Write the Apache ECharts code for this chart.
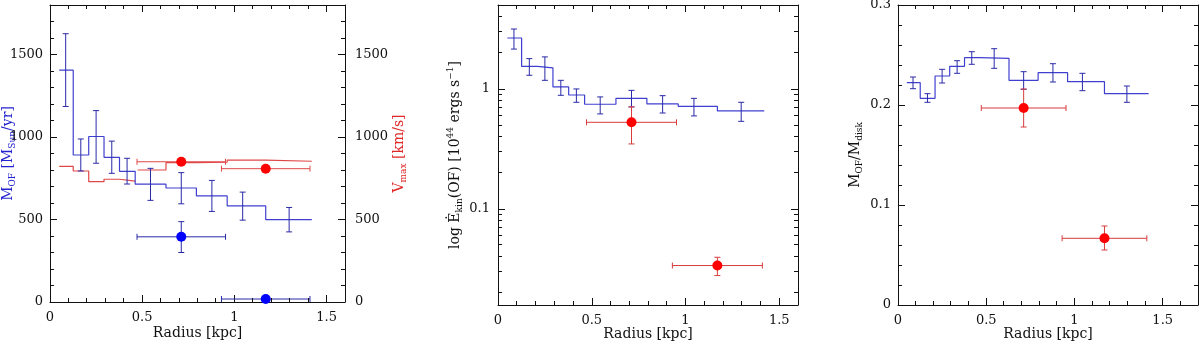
<!DOCTYPE html>
<html>
<head>
<meta charset="utf-8">
<script src="https://cdn.jsdelivr.net/npm/echarts@6.0.0/dist/echarts.min.js"></script>
<style>
  html, body { margin: 0; padding: 0; background: #fff; }
  #main { width: 1200px; height: 341px; }
</style>
</head>
<body>
<div id="main"></div>
<script>
// radial bins shared by the three panels
const binEdges = [0.05, 0.126, 0.21, 0.293, 0.377, 0.462, 0.629, 0.794, 0.961, 1.17, 1.42];
const binMid = [0.085, 0.167, 0.25, 0.335, 0.418, 0.545, 0.712, 0.878, 1.045, 1.297];

// left panel: outflow rate (blue) and Vmax (red)
const mdotOF = [1405, 891, 1003, 877, 792, 714, 691, 643, 582, 499];
const mdotLo = [1185, 794, 841, 780, 715, 616, 595, 549, 496, 425];
const mdotHi = [1626, 988, 1160, 975, 871, 810, 784, 737, 666, 573];
const vmaxInnerEdges = [0.05, 0.126, 0.21, 0.293, 0.377, 0.462];
const vmaxInner = [822, 794, 729, 744, 733];
const vmaxOuterEdges = [0.475, 0.629, 0.794, 0.961, 1.17, 1.42];
const vmaxOuter = [800, 845, 847, 860, 853];

// two large apertures
const apX = [0.712, 1.17];
const apXlo = [0.472, 0.93];
const apXhi = [0.952, 1.41];
const apMdot = [395, 18];
const apMdotLo = [300, 18];
const apMdotHi = [487, 18];
const apVmax = [850, 808];

// middle panel: kinetic power
const ekin = [2.66, 1.54, 1.50, 1.04, 0.89, 0.745, 0.835, 0.75, 0.716, 0.656];
const ekinLo = [2.15, 1.30, 1.18, 0.885, 0.774, 0.619, 0.708, 0.63, 0.596, 0.537];
const ekinHi = [3.16, 1.79, 1.85, 1.18, 1.0, 0.858, 0.973, 0.879, 0.835, 0.774];
const apEkin = [0.527, 0.0337];
const apEkinLo = [0.348, 0.0278];
const apEkinHi = [0.71, 0.0395];

// right panel: mass fraction
const mfrac = [0.2223, 0.2067, 0.229, 0.2387, 0.2473, 0.2467, 0.2247, 0.2323, 0.2233, 0.2113];
const mfracLo = [0.2163, 0.2027, 0.222, 0.2317, 0.2407, 0.2367, 0.2157, 0.223, 0.2143, 0.2027];
const mfracHi = [0.228, 0.2113, 0.2357, 0.2443, 0.2533, 0.2563, 0.2333, 0.2413, 0.2317, 0.219];
const apMfrac = [0.197, 0.0667];
const apMfracLo = [0.178, 0.055];
const apMfracHi = [0.216, 0.079];

// minor tick positions
const radiusMinor = [0.1, 0.2, 0.3, 0.4, 0.6, 0.7, 0.8, 0.9, 1.1, 1.2, 1.3, 1.4];
const radiusMinorWide = [0.1, 0.2, 0.3, 0.4, 0.6, 0.7, 0.8, 0.9, 1.1, 1.2, 1.3, 1.4, 1.6];
const mdotMinor = [100, 200, 300, 400, 600, 700, 800, 900, 1100, 1200, 1300, 1400, 1600, 1700];
const ekinMinor = [0.02, 0.03, 0.04, 0.05, 0.06, 0.07, 0.08, 0.09,
  0.2, 0.3, 0.4, 0.5, 0.6, 0.7, 0.8, 0.9, 2, 3, 4, 5];
const mfracMinor = [0.02, 0.04, 0.06, 0.08, 0.12, 0.14, 0.16, 0.18, 0.22, 0.24, 0.26, 0.28];

const font = 'DejaVu Serif';
const ink = '#111';
const blueLine = '#4040d0';
const blueBar = '#2a2aa8';
const redLine = '#e04848';
const redBar = '#d83c3c';

const chart = echarts.init(document.getElementById('main'));

function stepPoints(edges, levels) {
  const pts = levels.map((v, i) => [edges[i], v]);
  pts.push([edges[edges.length - 1], levels[levels.length - 1]]);
  return pts;
}
function triples(a, b, c) {
  return a.map((v, i) => [v, b[i], c[i]]);
}

// vertical error bar: [x, lo, hi]
function renderV(params, api) {
  const top = api.coord([api.value(0), api.value(2)]);
  const bot = api.coord([api.value(0), api.value(1)]);
  const c = 3;
  const style = { stroke: api.visual('color'), lineWidth: 1 };
  return { type: 'group', children: [
    { type: 'line', shape: { x1: top[0], y1: top[1], x2: bot[0], y2: bot[1] }, style },
    { type: 'line', shape: { x1: top[0] - c, y1: top[1], x2: top[0] + c, y2: top[1] }, style },
    { type: 'line', shape: { x1: bot[0] - c, y1: bot[1], x2: bot[0] + c, y2: bot[1] }, style }
  ] };
}
// horizontal error bar: [y, lo, hi]
function renderH(params, api) {
  const l = api.coord([api.value(1), api.value(0)]);
  const r = api.coord([api.value(2), api.value(0)]);
  const c = 3;
  const style = { stroke: api.visual('color'), lineWidth: 1 };
  return { type: 'group', children: [
    { type: 'line', shape: { x1: l[0], y1: l[1], x2: r[0], y2: r[1] }, style },
    { type: 'line', shape: { x1: l[0], y1: l[1] - c, x2: l[0], y2: l[1] + c }, style },
    { type: 'line', shape: { x1: r[0], y1: r[1] - c, x2: r[0], y2: r[1] + c }, style }
  ] };
}

// short inward minor ticks on both opposite frame edges
const crisp = (p) => Math.round(p - 0.5) + 0.5;
function minorTicks(xi, yi, values, dim, lo, hi) {
  const data = values.map((v) => (dim === 'x' ? [v, lo] : [lo, v]));
  return {
    type: 'custom', xAxisIndex: xi, yAxisIndex: yi, data, silent: true, z: 6,
    encode: { x: 0, y: 1 },
    renderItem: function (params, api) {
      const v = api.value(dim === 'x' ? 0 : 1);
      const a = api.coord(dim === 'x' ? [v, lo] : [lo, v]);
      const b = api.coord(dim === 'x' ? [v, hi] : [hi, v]);
      const len = 4;
      const style = { stroke: ink, lineWidth: 1 };
      let shapes;
      if (dim === 'x') {
        const x = crisp(a[0]);
        shapes = [{ x1: x, y1: a[1], x2: x, y2: a[1] - len }, { x1: x, y1: b[1], x2: x, y2: b[1] + len }];
      } else {
        const y = crisp(a[1]);
        shapes = [{ x1: a[0], y1: y, x2: a[0] + len, y2: y }, { x1: b[0], y1: y, x2: b[0] - len, y2: y }];
      }
      return { type: 'group', children: shapes.map((shape) => ({ type: 'line', shape, style })) };
    }
  };
}

function step(xi, yi, data, color) {
  return { type: 'line', xAxisIndex: xi, yAxisIndex: yi, data, step: 'end', showSymbol: false,
    lineStyle: { color, width: 1.2 }, itemStyle: { color }, z: 2 };
}
function vbars(xi, yi, data, color) {
  return { type: 'custom', xAxisIndex: xi, yAxisIndex: yi, data, renderItem: renderV,
    encode: { x: 0, y: [1, 2] }, itemStyle: { color }, z: 3 };
}
function hbars(xi, yi, data, color) {
  return { type: 'custom', xAxisIndex: xi, yAxisIndex: yi, data, renderItem: renderH,
    encode: { x: [1, 2], y: 0 }, itemStyle: { color }, z: 3 };
}
function dots(xi, yi, xs, ys, color) {
  return { type: 'scatter', xAxisIndex: xi, yAxisIndex: yi, data: xs.map((x, i) => [x, ys[i]]),
    symbolSize: 10, itemStyle: { color, opacity: 1 }, z: 5 };
}

const lineStyle = { color: ink, width: 1 };
const labelStyle = { fontFamily: font, fontSize: 13, color: ink, formatter: (v) => String(v) };

function lin(grid, pos, min, max, interval, opts) {
  return Object.assign({
    gridIndex: grid, type: 'value', position: pos, min, max, interval,
    axisLine: { show: true, onZero: false, lineStyle },
    axisTick: { show: true, inside: true, length: 7, lineStyle },
    splitLine: { show: false },
    nameMoveOverlap: false,
    axisLabel: Object.assign({ show: !!opts.label, margin: opts.margin || 7,
      showMaxLabel: !!opts.maxLabel }, labelStyle)
  }, opts.extra || {});
}
function xPair(grid, max, gap) {
  return [
    lin(grid, 'bottom', 0, max, 0.5, { label: true, margin: 9, extra: {
      name: 'Radius [kpc]', nameLocation: 'middle', nameGap: gap,
      nameTextStyle: { fontFamily: font, fontSize: 14, color: ink } } }),
    lin(grid, 'top', 0, max, 0.5, {})
  ];
}
function yLog(grid, pos, showLabel, extra) {
  return Object.assign({ gridIndex: grid, type: 'log', logBase: 10, position: pos, min: 0.0158, max: 5.01,
    axisLine: { show: true, onZero: false, lineStyle },
    axisTick: { show: true, inside: true, length: 7, lineStyle },
    splitLine: { show: false },
    nameMoveOverlap: false,
    axisLabel: Object.assign({ show: showLabel, margin: 8, showMinLabel: false, showMaxLabel: false }, labelStyle)
  }, extra || {});
}

const richSub = (color) => ({
  t: { fontFamily: font, fontSize: 14, lineHeight: 18, color },
  s: { fontFamily: font, fontSize: 9, lineHeight: 10, verticalAlign: 'bottom', color },
  p: { fontFamily: font, fontSize: 9, lineHeight: 10, verticalAlign: 'top', color }
});

const option = {
  animation: false,
  backgroundColor: '#fff',
  grid: [
    { left: 50, top: 5, width: 295, height: 297, outerBoundsMode: 'none' },
    { left: 498, top: 5, width: 300, height: 300, outerBoundsMode: 'none' },
    { left: 898, top: 5, width: 300, height: 300, outerBoundsMode: 'none' }
  ],
  // x axes: per panel [bottom, top] -> bottom index = 2 * panel
  xAxis: [].concat(xPair(0, 1.6, 24), xPair(1, 1.6, 22), xPair(2, 1.7, 22)),
  yAxis: [
    // 0, 1: left panel
    lin(0, 'left', 0, 1800, 500, { label: true, extra: {
      name: '{t|M}{s|OF}{t| [M}{s|Sun}{t|/yr]}', nameLocation: 'middle', nameGap: 33,
      nameTextStyle: { rich: richSub('#2323d0') } } }),
    lin(0, 'right', 0, 1800, 500, { label: true, margin: 10, extra: {
      name: '{t|V}{s|max}{t| [km/s]}', nameLocation: 'middle', nameGap: 45,
      nameTextStyle: { rich: richSub('#e02828') } } }),
    // 2, 3: middle panel
    yLog(1, 'left', true, {
      name: '{t|log Ė}{s|kin}{t|(OF) [10}{p|44}{t| ergs s}{p|−1}{t|]}', nameLocation: 'middle', nameGap: 34,
      nameTextStyle: { rich: richSub(ink) }
    }),
    yLog(1, 'right', false),
    // 4, 5: right panel
    lin(2, 'left', 0, 0.3, 0.1, { label: true, maxLabel: true, extra: {
      name: '{t|M}{s|OF}{t|/M}{s|disk}', nameLocation: 'middle', nameGap: 34,
      nameTextStyle: { rich: richSub(ink) } } }),
    lin(2, 'right', 0, 0.3, 0.1, {})
  ],
  series: [
    // left panel
    minorTicks(0, 0, radiusMinor, 'x', 0, 1800),
    minorTicks(0, 0, mdotMinor, 'y', 0, 1.6),
    step(0, 1, stepPoints(vmaxInnerEdges, vmaxInner), redLine),
    step(0, 1, stepPoints(vmaxOuterEdges, vmaxOuter), redLine),
    step(0, 0, stepPoints(binEdges, mdotOF), blueLine),
    vbars(0, 0, triples(binMid, mdotLo, mdotHi), blueBar),
    hbars(0, 1, triples(apVmax, apXlo, apXhi), redLine),
    hbars(0, 0, triples(apMdot, apXlo, apXhi), blueBar),
    vbars(0, 0, triples(apX, apMdotLo, apMdotHi).slice(0, 1), blueBar),
    dots(0, 1, apX, apVmax, '#ff0000'),
    dots(0, 0, apX, apMdot, '#0000ff'),
    // middle panel
    minorTicks(2, 2, radiusMinor, 'x', 0.0158, 5.01),
    minorTicks(2, 2, ekinMinor, 'y', 0, 1.6),
    step(2, 2, stepPoints(binEdges, ekin), blueLine),
    vbars(2, 2, triples(binMid, ekinLo, ekinHi), blueBar),
    hbars(2, 2, triples(apEkin, apXlo, apXhi), redBar),
    vbars(2, 2, triples(apX, apEkinLo, apEkinHi), redBar),
    dots(2, 2, apX, apEkin, '#ff0000'),
    // right panel
    minorTicks(4, 4, radiusMinorWide, 'x', 0, 0.3),
    minorTicks(4, 4, mfracMinor, 'y', 0, 1.7),
    step(4, 4, stepPoints(binEdges, mfrac), blueLine),
    vbars(4, 4, triples(binMid, mfracLo, mfracHi), blueBar),
    hbars(4, 4, triples(apMfrac, apXlo, apXhi), redBar),
    vbars(4, 4, triples(apX, apMfracLo, apMfracHi), redBar),
    dots(4, 4, apX, apMfrac, '#ff0000')
  ]
};

chart.setOption(option);
</script>
</body>
</html>
